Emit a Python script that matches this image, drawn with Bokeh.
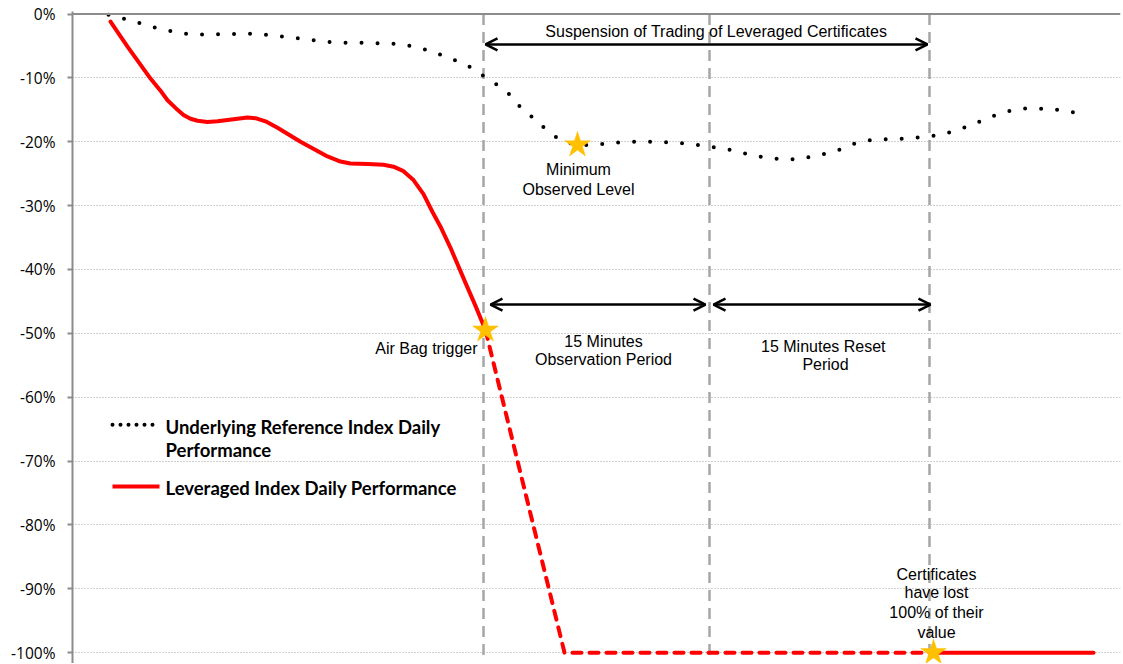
from bokeh.plotting import figure
from bokeh.models import Arrow, OpenHead, FixedTicker, Range1d, Span
from bokeh.core.properties import value
from bokeh.embed import file_html
from bokeh.resources import INLINE

# ---------------- data (x = time steps, y = % performance) ----------------
underlying_x = [36, 61, 76, 93, 108, 125, 141, 166, 182, 198, 215, 231, 246, 263, 280, 296,
                313, 328, 345, 360, 375, 390, 405, 413, 425, 438, 448, 461, 470, 480, 486,
                495, 505, 518, 535, 551, 566, 583, 600, 615, 631, 646, 663, 678, 695, 711,
                728, 743, 760, 775, 783, 791, 806, 823, 840, 856, 871, 888, 903, 918, 933,
                950, 965, 981, 998, 1015]
underlying_y = [-0.1, -1.1, -1.9, -2.5, -3.0, -3.2, -3.2, -3.1, -3.1, -3.3, -3.6, -3.9, -4.2,
                -4.5, -4.5, -4.5, -4.6, -4.7, -5.2, -5.9, -6.8, -7.7, -8.9, -10.0, -11.1,
                -12.7, -14.6, -16.3, -17.6, -18.8, -19.6, -20.1, -20.5, -20.5, -20.3, -20.0,
                -20.0, -20.0, -20.1, -20.3, -20.6, -21.0, -21.4, -22.1, -22.5, -22.8, -22.7,
                -22.2, -21.6, -20.8, -20.2, -19.9, -19.6, -19.6, -19.4, -19.2, -18.8, -18.0,
                -17.1, -16.1, -15.3, -14.8, -14.8, -14.9, -15.3, -15.8]

leveraged_x = [38, 55, 78, 88, 95, 103, 111, 118, 125, 135, 145, 155, 165, 175, 183, 193,
               205, 228, 255, 268, 278, 295, 311, 321, 331, 341, 351, 360, 368, 378, 393,
               403, 413]
leveraged_y = [-1.2, -5.1, -10.1, -12.0, -13.5, -14.7, -15.8, -16.4, -16.7, -16.9, -16.8,
               -16.6, -16.4, -16.2, -16.3, -16.8, -17.8, -20.0, -22.3, -23.1, -23.4, -23.5,
               -23.6, -23.9, -24.6, -26.0, -28.2, -31.0, -33.3, -36.6, -42.1, -45.7, -49.5]

reset_x = [413, 492, 861]          # leveraged index during suspension (dashed)
reset_y = [-49.5, -100.0, -100.0]

after_x = [861, 1021]              # leveraged index after reset
after_y = [-100.0, -100.0]

star_x = [505, 413, 861]
star_y = [-20.5, -49.5, -100.0]

event_x = [411, 637, 857]          # vertical dashed event lines

y_ticks = [0, -10, -20, -30, -40, -50, -60, -70, -80, -90, -100]
y_tick_labels = ["0%", "-10%", "-20%", "-30%", "-40%", "-50%", "-60%", "-70%", "-80%",
                 "-90%", "-100%"]

legend_labels = ["Underlying Reference Index Daily", "Performance",
                 "Leveraged Index Daily Performance"]

suspension_label = "Suspension of  Trading of Leveraged Certificates"
minimum_label = ["Minimum", "Observed Level"]
airbag_label = "Air Bag trigger"
observation_label = ["15 Minutes", "Observation Period"]
reset_label = ["15  Minutes Reset", "Period"]
lost_label = ["Certificates", "have lost", "100% of their", "value"]

# ---------------- figure ----------------
p = figure(frame_width=1048, frame_height=652,
           x_range=Range1d(0, 1048), y_range=Range1d(-101.7, 0.4),
           output_backend="svg", toolbar_location=None,
           min_border_left=72, min_border_right=1, min_border_top=11, min_border_bottom=0)
p.outline_line_color = None
p.background_fill_color = "white"
p.border_fill_color = "white"

p.xaxis.visible = False
p.xgrid.visible = False

p.yaxis.ticker = FixedTicker(ticks=y_ticks)
p.yaxis.major_label_overrides = {t: l for t, l in zip(y_ticks, y_tick_labels)}
p.yaxis.axis_line_color = "#8C8C8C"
p.yaxis.axis_line_width = 2
p.yaxis.major_tick_line_color = "#8C8C8C"
p.yaxis.major_tick_line_width = 2
p.yaxis.major_tick_out = 5
p.yaxis.major_tick_in = 0
p.yaxis.minor_tick_line_color = None
p.yaxis.major_label_standoff = 12
p.yaxis.major_label_text_font = "Open Sans"
p.yaxis.major_label_text_font_size = "15.5px"
p.yaxis.major_label_text_color = "#000000"

p.ygrid.ticker = FixedTicker(ticks=y_ticks[1:])
p.ygrid.grid_line_color = "#A0A0A0"
p.ygrid.grid_line_width = 1
p.ygrid.grid_line_dash = "1 2"

p.add_layout(Span(location=0, dimension="width", line_color="#8C8C8C", line_width=2))

# vertical event lines
p.segment(x0=event_x, y0=[0] * len(event_x), x1=event_x, y1=[-101.0] * len(event_x),
          line_color="#A6A6A6", line_width=2.5, line_dash="11 7")

# series
p.line(underlying_x, underlying_y, line_color="black", line_width=4,
       line_dash="0 16", line_cap="round")
p.line(leveraged_x, leveraged_y, line_color="#FF0000", line_width=4,
       line_join="round", line_cap="round")
p.line(reset_x, reset_y, line_color="#FF0000", line_width=4,
       line_dash="9 8", line_cap="round", line_join="round")
p.line(after_x, after_y, line_color="#FF0000", line_width=4, line_cap="round")

p.scatter(star_x, star_y, marker="star", size=27, fill_color="#FFC000",
          line_color="#FFC000", line_width=0.5)

# arrows
def darrow(x0, x1, y):
    p.add_layout(Arrow(start=OpenHead(size=12, line_width=2.5, line_color="black"),
                       end=OpenHead(size=12, line_width=2.5, line_color="black"),
                       x_start=x0, y_start=y, x_end=x1, y_end=y,
                       line_width=2.5, line_color="black"))

darrow(413, 855, -4.75)
darrow(418, 633, -45.5)
darrow(641, 858, -45.5)

ann = dict(text_font=value("Liberation Sans"), text_font_size="16px",
           text_baseline="middle", text_color="black")
p.text(x=[646], y=[-2.8], text=[suspension_label], text_align="center", **ann)
p.text(x=[506, 506], y=[-24.4, -27.4], text=minimum_label, text_align="center", **ann)
p.text(x=[405], y=[-52.4], text=[airbag_label], text_align="right", **ann)
p.text(x=[531, 531], y=[-51.3, -54.1], text=observation_label, text_align="center", **ann)
p.text(x=[753, 753], y=[-52.1, -54.9], text=reset_label, text_align="center", **ann)
p.text(x=[864] * 4, y=[-87.8, -90.6, -93.7, -96.9], text=lost_label,
       text_align="center", **ann)

# legend (manual)
p.line([40, 81], [-64.3, -64.3], line_color="black", line_width=4,
       line_dash="0 8", line_cap="round")
p.line([40, 87], [-74.0, -74.0], line_color="#FF0000", line_width=4)
p.text(x=[93, 93, 93], y=[-64.6, -68.2, -74.2], text=legend_labels,
       text_font=value("Lato"), text_font_style="bold", text_font_size="18.5px",
       text_baseline="middle", text_color="black")

open("out.html", "w").write(file_html(p, INLINE))
